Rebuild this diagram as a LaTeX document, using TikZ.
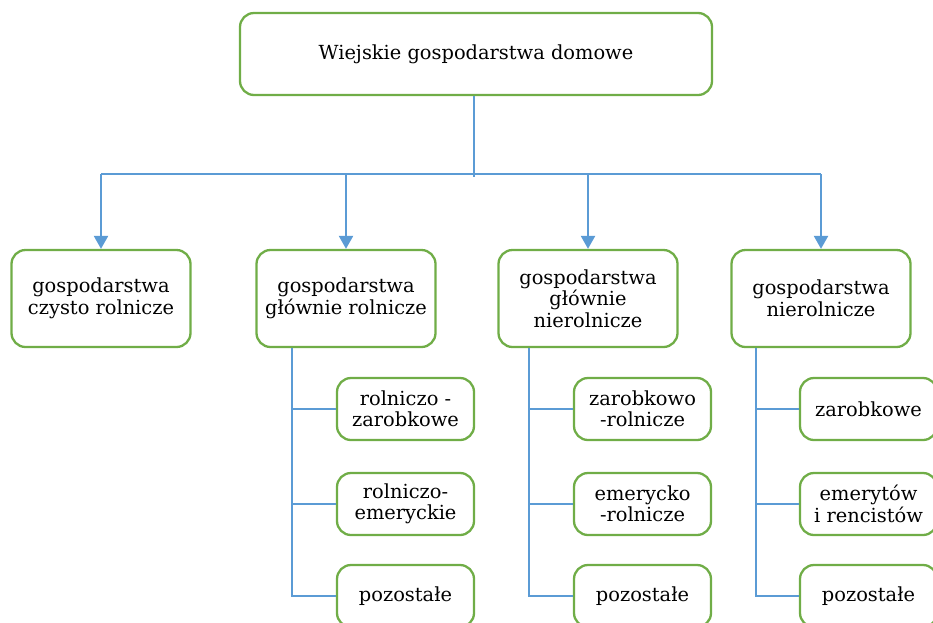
\documentclass[tikz,border=0pt]{standalone}
\usepackage{fontspec}
\setmainfont{DejaVu Serif}
\usetikzlibrary{arrows.meta}
\definecolor{boxgreen}{HTML}{70AD47}
\definecolor{linkblue}{HTML}{5B9BD5}
\begin{document}
\begin{tikzpicture}[x=1pt,y=-1pt,
  box/.style={draw=boxgreen, line width=2.3pt, rounded corners=14pt, fill=white,
    align=center, font=\fontsize{19.4}{21.5}\selectfont, inner sep=0pt},
  child/.style={box, minimum width=137pt, minimum height=62pt},
  mid/.style={box, minimum width=179pt, minimum height=97pt},
  link/.style={draw=linkblue, line width=2.3pt},
  arr/.style={link, -{Triangle[width=14pt,length=13pt]}}]
\useasboundingbox (0,0) rectangle (933,622);
\clip (0,0) rectangle (933,622);

\node[box, minimum width=472pt, minimum height=82pt] (top) at (476,54) {Wiejskie gospodarstwa domowe};

\node[mid] (A) at (101,298.5) {gospodarstwa\\czysto rolnicze};
\node[mid] (B) at (346,298.5) {gospodarstwa\\głównie rolnicze};
\node[mid] (C) at (588,298.5) {gospodarstwa\\głównie\\nierolnicze};
\node[mid] (D) at (821,298.5) {gospodarstwa\\nierolnicze};

\node[child] (B1) at (405.5,409) {rolniczo -\\zarobkowe};
\node[child] (B2) at (405.5,504) {rolniczo-\\emeryckie};
\node[child] (B3) at (405.5,596) {pozostałe};
\node[child] (C1) at (642.5,409) {zarobkowo\\-rolnicze};
\node[child] (C2) at (642.5,504) {emerycko\\-rolnicze};
\node[child] (C3) at (642.5,596) {pozostałe};
\node[child] (D1) at (868.5,409) {zarobkowe};
\node[child] (D2) at (868.5,504) {emerytów\\i rencistów};
\node[child] (D3) at (868.5,596) {pozostałe};

\coordinate (bus) at (474,174);
\draw[link] (top.south -| bus) -- ([yshift=-3pt]bus);
\draw[link] (A.north |- bus) -- (D.north |- bus);
\foreach \n in {A,B,C,D} \draw[arr] (\n.north |- bus) -- (\n.north);

\coordinate (tb) at (292,0);
\coordinate (tc) at (529,0);
\coordinate (td) at (756,0);
\foreach \t/\p in {tb/B,tc/C,td/D}{
  \draw[link] (\t |- \p.south) -- (\t |- \p3.west) -- (\p3.west);
  \draw[link] (\t |- \p1.west) -- (\p1.west);
  \draw[link] (\t |- \p2.west) -- (\p2.west);
}
\end{tikzpicture}
\end{document}
